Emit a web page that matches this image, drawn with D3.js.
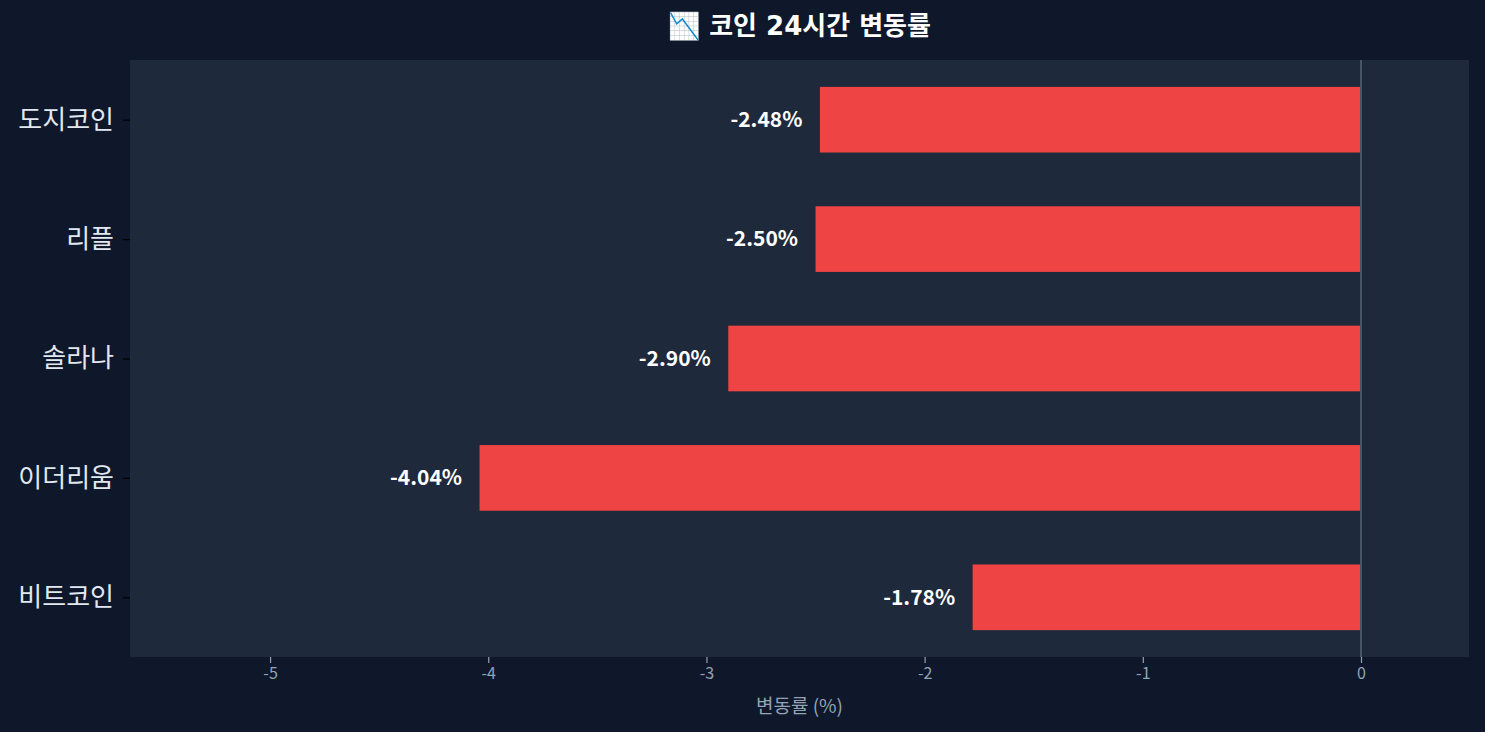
<!DOCTYPE html>
<html>
<head>
<meta charset="utf-8">
<script src="https://cdn.jsdelivr.net/npm/d3@7"></script>
<style>
html,body{margin:0;padding:0;background:#0f172a;}
svg{display:block;}
text{font-family:"Noto Sans CJK KR","Noto Sans",sans-serif;}
</style>
</head>
<body>
<svg id="chart" width="1485" height="732"></svg>
<script>
const titleText = "📉 코인 24시간 변동률";
const categories = ["비트코인", "이더리움", "솔라나", "리플", "도지코인"];
const changes = [-1.78, -4.04, -2.90, -2.50, -2.48];
const xTicks = [-5, -4, -3, -2, -1, 0];
const xLabel = "변동률 (%)";

const W = 1485, H = 732;
const margin = {left: 130, right: 16, top: 60, bottom: 75};
const svg = d3.select("#chart");
svg.append("rect").attr("width", W).attr("height", H).attr("fill", "#0f172a");

const x = d3.scaleLinear().domain([-5.642, 0.495]).range([margin.left, W - margin.right]);
const y = d3.scaleLinear().domain([-0.5, categories.length - 0.5]).range([H - margin.bottom, margin.top]);
const barH = (y(0) - y(0.55));

svg.append("rect")
  .attr("x", margin.left).attr("y", margin.top)
  .attr("width", W - margin.right - margin.left)
  .attr("height", H - margin.bottom - margin.top)
  .attr("fill", "#1e293b");

// bars
svg.selectAll("rect.bar").data(changes).enter().append("rect")
  .attr("class", "bar")
  .attr("x", d => x(Math.min(0, d)))
  .attr("width", d => Math.abs(x(d) - x(0)))
  .attr("y", (d, i) => y(i) - barH / 2)
  .attr("height", barH)
  .attr("fill", "#ef4444");

// zero line
svg.append("line")
  .attr("x1", x(0)).attr("x2", x(0))
  .attr("y1", margin.top).attr("y2", H - margin.bottom)
  .attr("stroke", "#475569").attr("stroke-width", 2);

// value labels
svg.selectAll("text.val").data(changes).enter().append("text")
  .attr("class", "val")
  .attr("x", d => x(d - 0.08))
  .attr("y", (d, i) => y(i))
  .attr("dy", "0.35em")
  .attr("text-anchor", "end")
  .attr("fill", "#ffffff")
  .attr("font-weight", "bold")
  .attr("font-size", 21)
  .text(d => d.toFixed(2) + "%");

// x axis
const xAxis = svg.append("g")
  .attr("transform", `translate(0,${H - margin.bottom})`)
  .call(d3.axisBottom(x).tickValues(xTicks).tickFormat(d => d3.format("d")(d).replace("−", "-")).tickSize(6).tickPadding(5));
xAxis.select(".domain").remove();
xAxis.selectAll(".tick line").attr("stroke", "#94a3b8").attr("stroke-width", 1.2);
xAxis.selectAll(".tick text").attr("fill", "#94a3b8").attr("font-size", 16)
  .style("font-family", '"Noto Sans CJK KR","Noto Sans",sans-serif');

// y axis
const yAxis = svg.append("g")
  .attr("transform", `translate(${margin.left},0)`)
  .call(d3.axisLeft(y).tickValues(d3.range(categories.length)).tickFormat(i => categories[i]).tickSize(7).tickPadding(9));
yAxis.select(".domain").remove();
yAxis.selectAll(".tick line").attr("stroke", "#000000").attr("stroke-width", 1.2);
yAxis.selectAll(".tick text").attr("fill", "#e2e8f0").attr("font-size", 26)
  .style("font-family", '"Noto Sans CJK KR","Noto Sans",sans-serif');

// x label
svg.append("text")
  .attr("x", (margin.left + W - margin.right) / 2)
  .attr("y", 706).attr("dy", "0.35em")
  .attr("text-anchor", "middle")
  .attr("fill", "#94a3b8").attr("font-size", 19)
  .text(xLabel);

// title
svg.append("text")
  .attr("x", (margin.left + W - margin.right) / 2)
  .attr("y", 26).attr("dy", "0.35em")
  .attr("text-anchor", "middle")
  .attr("fill", "#ffffff").attr("font-weight", "bold").attr("font-size", 26)
  .style("font-family", '"DejaVu Sans","Noto Sans CJK KR",sans-serif')
  .text(titleText);
</script>
</body>
</html>
